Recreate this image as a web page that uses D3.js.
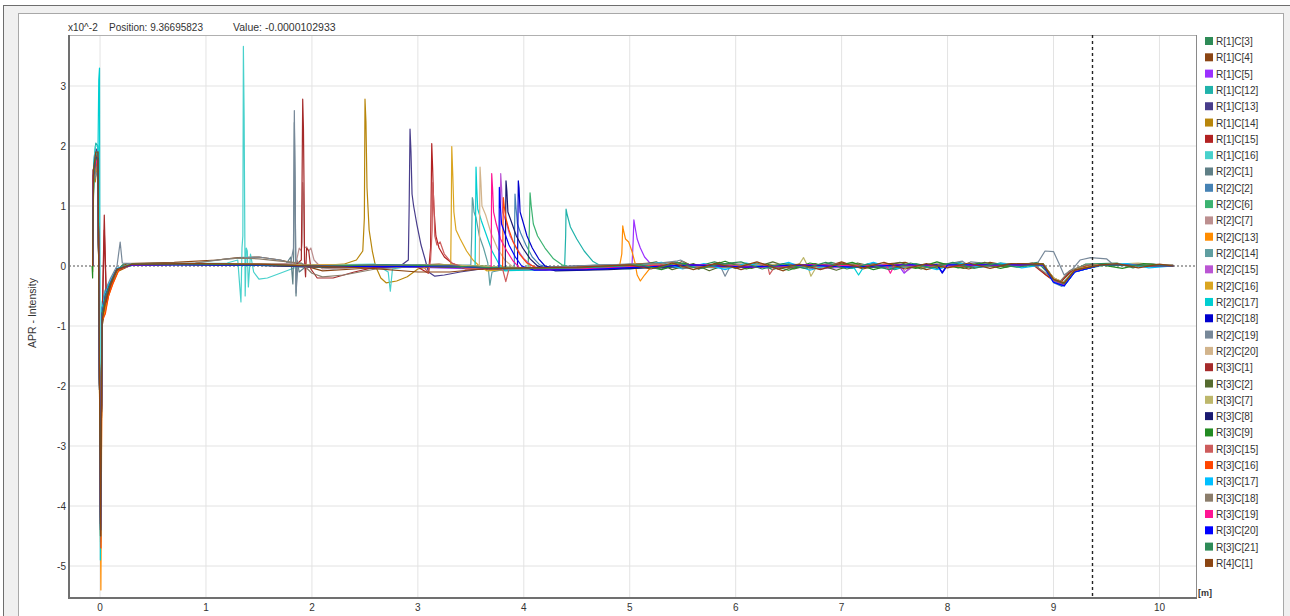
<!DOCTYPE html>
<html><head><meta charset="utf-8">
<script src="https://cdn.jsdelivr.net/npm/d3@7"></script>
<style>
body{margin:0;background:#fff;}
svg{display:block;font-family:"Liberation Sans",Arial,sans-serif;}
</style>
</head><body>
<svg id="c" width="1290" height="616"></svg>
<script>
// ---------- data (x in m, y in units of 10^-2) ----------
const seriesNames = ["R[1]C[3]","R[1]C[4]","R[1]C[5]","R[1]C[12]","R[1]C[13]","R[1]C[14]","R[1]C[15]","R[1]C[16]",
  "R[2]C[1]","R[2]C[2]","R[2]C[6]","R[2]C[7]","R[2]C[13]","R[2]C[14]","R[2]C[15]","R[2]C[16]","R[2]C[17]","R[2]C[18]","R[2]C[19]","R[2]C[20]",
  "R[3]C[1]","R[3]C[2]","R[3]C[7]","R[3]C[8]","R[3]C[9]","R[3]C[15]","R[3]C[16]","R[3]C[17]","R[3]C[18]","R[3]C[19]","R[3]C[20]","R[3]C[21]","R[4]C[1]"];
const seriesColors = ["#2E8B57","#8B4513","#9B30FF","#20B2AA","#483D8B","#B8860B","#B22222","#48D1CC",
  "#5F7F86","#4682B4","#3CB371","#BC8F8F","#FF8C00","#5F9EA0","#BA55D3","#DAA520","#00CED1","#0000CD","#778899","#D2B48C",
  "#A52A2A","#556B2F","#BDB76B","#191970","#228B22","#CD5C5C","#FF4500","#00BFFF","#8B7D6B","#FF1493","#0000FF","#2E8B57","#8B4513"];

const s01 = [[-0.07,0],[-0.066,0.6],[-0.06,1.6],[-0.045,1.9],[-0.03,1.7],[-0.02,1.8],[0.005,-4.3],[0.02,-0.9],[0.05,-0.6],[0.09,-0.3],[0.14,-0.1],[0.22,0.03],[0.6,0.05],[1.1,0.03],[1.6,0.02],[2.1,0],[2.6,-0.02],[3.1,0.02],[3.6,0],[4.1,-0.05],[4.6,-0.04],[5.1,0.02],[5.3,-0.05],[5.45,0.06],[5.6,-0.02],[5.8,0.07],[6.0,-0.04],[6.2,0.05],[6.35,-0.06],[6.5,0.04],[6.7,-0.05],[6.9,0.06],[7.1,-0.03],[7.3,0.05],[7.5,-0.06],[7.7,0.04],[7.9,-0.04],[8.1,0.06],[8.3,-0.02],[8.5,0.05],[8.7,0.02],[8.85,0.06],[8.95,-0.12],[9.05,-0.28],[9.15,-0.1],[9.3,0.03],[9.6,0.05],[9.75,-0.03],[9.9,0.04],[10.13,0]];
const s02 = [[-0.07,0],[-0.062,1.4],[-0.045,1.6],[-0.02,1.7],[0.005,-4.1],[0.02,-1.0],[0.05,-0.7],[0.1,-0.3],[0.16,-0.08],[0.25,0.04],[0.7,0.06],[1.1,0.1],[1.3,0.14],[1.5,0.15],[1.7,0.1],[1.9,0.02],[2.1,-0.08],[2.4,-0.05],[2.8,0],[3.2,0.03],[3.7,-0.06],[4.2,-0.06],[4.7,0],[5.2,0.05],[5.35,-0.03],[5.5,0.08],[5.65,-0.05],[5.85,0.06],[6.05,-0.06],[6.25,0.04],[6.45,-0.08],[6.6,0.03],[6.8,-0.04],[7.0,0.07],[7.2,-0.05],[7.4,0.03],[7.6,0.06],[7.8,-0.06],[8.0,0.03],[8.2,-0.05],[8.4,0.06],[8.6,0.0],[8.8,0.05],[8.93,-0.15],[9.05,-0.3],[9.15,-0.12],[9.3,0],[9.8,0.03],[10.13,0.01]];
const s03 = [[-0.07,0],[-0.064,1.5],[-0.05,1.9],[-0.03,1.6],[-0.02,1.8],[0.005,-4.4],[0.02,-0.8],[0.05,-0.5],[0.1,-0.25],[0.16,-0.05],[0.3,0.02],[0.8,0.03],[1.4,0.02],[2.0,-0.02],[2.6,0],[3.2,-0.03],[3.8,-0.06],[4.4,-0.06],[4.9,-0.04],[5.02,-0.03],[5.032,0.4],[5.039,0.77],[5.05,0.65],[5.07,0.45],[5.1,0.3],[5.14,0.15],[5.2,0.03],[5.3,-0.03],[5.6,0],[6.0,-0.02],[6.5,0.02],[6.9,-0.03],[7.3,0.02],[7.55,-0.02],[7.59,-0.12],[7.65,-0.02],[8.0,0.02],[8.5,0.03],[8.9,0.02],[9.0,-0.22],[9.1,-0.3],[9.2,-0.08],[9.4,0.02],[9.9,0.03],[10.13,0]];
const s04 = [[-0.07,0],[-0.06,1.7],[-0.04,2.05],[-0.02,2.0],[0.005,-4.5],[0.02,-0.7],[0.06,-0.5],[0.1,-0.3],[0.18,-0.05],[0.35,0.03],[1.0,0.04],[1.6,0.03],[2.2,0.01],[2.8,0],[3.4,0],[3.9,-0.04],[4.3,-0.05],[4.385,-0.03],[4.395,0.5],[4.399,0.95],[4.41,0.85],[4.44,0.65],[4.5,0.45],[4.57,0.25],[4.65,0.08],[4.75,-0.02],[5.0,-0.05],[5.4,0.02],[5.8,-0.03],[6.2,0.02],[6.6,-0.02],[7.0,0.02],[7.4,-0.03],[7.8,0.02],[8.2,0.03],[8.6,0.02],[8.9,0],[9.0,-0.25],[9.08,-0.3],[9.18,-0.1],[9.35,0.02],[9.9,0.02],[10.13,0]];
const s05 = [[-0.07,0],[-0.065,1.6],[-0.05,1.7],[-0.035,1.95],[-0.02,1.9],[0.005,-4.2],[0.02,-0.9],[0.05,-0.6],[0.1,-0.3],[0.16,-0.07],[0.3,0.02],[0.9,0.04],[1.5,0.02],[2.0,-0.02],[2.5,-0.02],[2.85,0.02],[2.91,0.1],[2.918,1.0],[2.926,2.28],[2.935,1.9],[2.945,1.2],[2.96,1.0],[2.99,0.7],[3.03,0.35],[3.07,0.1],[3.1,-0.1],[3.16,-0.17],[3.25,-0.15],[3.4,-0.1],[3.6,-0.05],[4.0,-0.03],[4.5,0],[5.0,0.02],[5.5,-0.03],[6.0,0.03],[6.5,-0.02],[7.0,0.03],[7.5,-0.02],[8.0,0.03],[8.5,0],[8.9,0.03],[9.0,-0.2],[9.1,-0.28],[9.2,-0.08],[9.4,0.02],[10.13,0.01]];
const s06 = [[-0.07,-0.1],[-0.062,1.5],[-0.045,1.4],[-0.02,1.8],[0.005,-4.5],[0.02,-0.9],[0.05,-0.7],[0.1,-0.35],[0.16,-0.1],[0.3,0.02],[0.9,0.03],[1.5,0.02],[2.0,0],[2.3,0.03],[2.42,0.1],[2.48,0.25],[2.495,0.8],[2.501,2.78],[2.51,2.4],[2.52,1.3],[2.54,0.6],[2.57,0.25],[2.6,0],[2.65,-0.2],[2.7,-0.28],[2.8,-0.25],[2.9,-0.18],[3.0,-0.05],[3.2,0.02],[3.6,0],[4.1,-0.04],[4.6,0],[5.1,0.03],[5.6,0],[6.1,0.03],[6.6,0],[7.1,0.03],[7.6,-0.02],[8.1,0.02],[8.6,0.03],[8.9,0.02],[9.0,-0.2],[9.1,-0.3],[9.2,-0.07],[9.5,0.02],[10.13,0.01]];
const s07 = [[-0.07,0],[-0.063,1.6],[-0.04,1.8],[-0.02,1.9],[0.005,-4.3],[0.02,-1.0],[0.04,0.6],[0.06,-0.6],[0.1,-0.35],[0.17,-0.08],[0.3,0.02],[1.0,0.03],[1.6,0.01],[2.1,-0.02],[2.6,0],[3.0,-0.02],[3.1,-0.12],[3.12,0.3],[3.131,2.04],[3.14,1.6],[3.15,1.0],[3.17,0.5],[3.2,0.3],[3.25,0.15],[3.32,0.05],[3.45,-0.05],[3.8,-0.06],[4.3,-0.04],[4.8,0],[5.3,0.02],[5.8,-0.02],[6.3,0.02],[6.8,-0.02],[7.3,0.03],[7.8,-0.02],[8.3,0.02],[8.8,0.03],[8.95,-0.18],[9.05,-0.3],[9.15,-0.1],[9.35,0.02],[10.13,0]];
const s08 = [[-0.07,0],[-0.06,1.7],[-0.045,2.0],[-0.02,2.0],[0.005,-4.6],[0.02,-0.8],[0.05,-0.5],[0.1,-0.3],[0.17,-0.06],[0.3,0.02],[0.8,0.04],[1.2,0.05],[1.3,0.1],[1.33,-0.6],[1.34,0.3],[1.348,0.5],[1.353,3.66],[1.36,2.5],[1.37,-0.5],[1.38,0.3],[1.39,0.25],[1.4,-0.35],[1.42,0.2],[1.45,-0.1],[1.5,-0.22],[1.58,-0.2],[1.7,-0.12],[1.85,-0.02],[2.2,0.02],[2.6,0.03],[2.72,-0.1],[2.74,-0.42],[2.76,-0.05],[3.0,0.02],[3.5,0],[4.0,-0.03],[4.5,-0.02],[5.0,0.02],[5.5,-0.02],[6.0,0.02],[6.5,0],[7.0,0.02],[7.5,-0.02],[8.0,0.02],[8.5,0.02],[8.9,0.03],[9.0,-0.22],[9.1,-0.3],[9.2,-0.08],[9.5,0.02],[10.13,0]];
const s09 = [[-0.07,0],[-0.064,1.4],[-0.05,1.55],[-0.02,1.7],[0.005,-4.2],[0.02,-0.9],[0.05,-0.55],[0.1,-0.3],[0.16,-0.06],[0.3,0.03],[0.9,0.04],[1.5,0.03],[1.75,0.02],[1.8,0.15],[1.82,-0.3],[1.828,0.2],[1.834,2.39],[1.84,1.5],[1.85,-0.5],[1.86,0.1],[1.88,-0.1],[1.95,0],[2.2,-0.05],[2.6,0],[3.0,0.02],[3.5,-0.02],[4.0,-0.04],[4.5,0],[5.0,0.03],[5.5,-0.02],[6.0,0.02],[6.5,-0.03],[7.0,0.02],[7.5,0],[8.0,0.03],[8.5,0],[8.9,0.02],[9.0,-0.25],[9.1,-0.32],[9.2,-0.1],[9.45,0.02],[10.13,0.01]];
const s10 = [[-0.07,0],[-0.062,1.5],[-0.04,1.75],[-0.02,1.8],[0.005,-4.4],[0.02,-0.7],[0.05,-0.45],[0.1,-0.25],[0.16,-0.05],[0.3,0.03],[0.9,0.02],[1.5,0.01],[2.1,0],[2.7,-0.03],[3.3,0],[3.8,-0.05],[3.91,-0.04],[3.913,0.6],[3.917,1.2],[3.925,1.0],[3.94,0.7],[3.97,0.55],[4.02,0.35],[4.08,0.15],[4.15,0.02],[4.3,-0.06],[4.7,-0.05],[5.1,0],[5.5,0.03],[5.9,-0.03],[6.3,0.03],[6.7,-0.04],[7.1,0.03],[7.5,-0.03],[7.9,0.03],[8.3,-0.02],[8.7,0.03],[8.9,0.02],[9.0,-0.28],[9.08,-0.34],[9.18,-0.1],[9.4,0.02],[9.8,0],[10.13,0]];
const s11 = [[-0.07,0],[-0.066,0.7],[-0.06,1.6],[-0.03,1.9],[-0.02,1.9],[0.005,-4.3],[0.02,-0.8],[0.05,-0.5],[0.1,-0.28],[0.17,-0.05],[0.3,0.02],[0.9,0.04],[1.5,0.02],[2.1,0],[2.7,0.02],[3.3,-0.02],[3.8,-0.05],[4.04,-0.04],[4.052,0.6],[4.059,1.22],[4.07,1.0],[4.09,0.7],[4.13,0.5],[4.2,0.3],[4.28,0.12],[4.36,0.02],[4.5,-0.05],[5.0,-0.04],[5.5,0.02],[6.0,-0.02],[6.5,0.03],[7.0,-0.03],[7.5,0.02],[8.0,-0.02],[8.5,0.03],[8.9,0.04],[9.0,-0.2],[9.1,-0.3],[9.2,-0.08],[9.4,0.02],[10.13,0]];
const s12 = [[-0.07,0],[-0.063,1.5],[-0.04,1.6],[-0.02,1.8],[0.005,-4.2],[0.02,-0.8],[0.05,-0.5],[0.1,-0.28],[0.16,-0.05],[0.3,0.03],[1.0,0.04],[1.6,0.03],[1.85,0.05],[1.88,0.3],[1.9,0.25],[1.908,0.4],[1.913,1.39],[1.92,1.2],[1.93,0.3],[1.95,0.32],[1.97,0.25],[1.99,0.3],[2.02,0.1],[2.1,-0.05],[2.4,-0.03],[2.9,0],[3.4,-0.02],[3.9,-0.05],[4.4,-0.03],[4.9,0.02],[5.4,0],[5.9,0.03],[6.4,-0.02],[6.9,0.03],[7.4,0],[7.9,0.03],[8.4,0],[8.9,0.03],[9.0,-0.22],[9.1,-0.28],[9.2,-0.07],[9.4,0.02],[10.13,0]];
const s13 = [[-0.07,0],[-0.062,1.5],[-0.04,1.7],[-0.02,1.8],[0.008,-5.4],[0.02,-0.9],[0.05,-0.75],[0.08,-0.5],[0.12,-0.3],[0.18,-0.05],[0.3,0.03],[0.9,0.04],[1.5,0.02],[2.1,0.02],[2.7,0],[3.3,-0.02],[3.9,-0.06],[4.5,-0.05],[4.9,-0.04],[4.925,0.2],[4.934,0.67],[4.94,0.6],[4.96,0.45],[4.99,0.4],[5.02,0.25],[5.05,0.05],[5.07,-0.15],[5.1,-0.25],[5.14,-0.15],[5.2,-0.02],[5.6,0.02],[6.0,0],[6.5,0.02],[7.0,0],[7.5,0.02],[8.0,-0.02],[8.5,0.02],[8.9,0.02],[9.0,-0.2],[9.1,-0.28],[9.2,-0.06],[9.4,0.02],[10.13,0]];
const s14 = [[-0.07,0],[-0.065,0.6],[-0.06,1.5],[-0.04,1.8],[-0.02,1.8],[0.005,-4.3],[0.02,-0.8],[0.05,-0.5],[0.1,-0.28],[0.16,-0.06],[0.3,0.02],[0.9,0.03],[1.5,0.02],[2.1,0],[2.7,0.02],[3.2,0],[3.5,0.02],[3.508,0.5],[3.514,1.14],[3.52,1.1],[3.53,0.9],[3.55,0.8],[3.58,0.5],[3.62,0.3],[3.66,0.05],[3.68,-0.32],[3.7,-0.1],[3.8,-0.06],[4.2,-0.05],[4.7,-0.02],[5.2,0.02],[5.7,-0.02],[6.2,0.03],[6.7,-0.03],[7.2,0.02],[7.7,-0.02],[8.2,0.03],[8.7,0],[8.9,0.03],[9.0,-0.22],[9.1,-0.3],[9.2,-0.08],[9.45,0.02],[10.13,0]];
const s15 = [[-0.07,0],[-0.062,1.6],[-0.04,1.9],[-0.02,1.9],[0.005,-4.4],[0.02,-0.8],[0.05,-0.5],[0.1,-0.3],[0.16,-0.06],[0.3,0.02],[0.9,0.03],[1.5,0.02],[2.1,0],[2.7,-0.02],[3.3,0],[3.7,-0.05],[3.77,-0.04],[3.776,0.7],[3.782,1.54],[3.79,1.3],[3.8,0.9],[3.83,0.75],[3.87,0.5],[3.93,0.3],[4.0,0.12],[4.08,0],[4.2,-0.06],[4.6,-0.05],[5.1,0],[5.6,0.02],[6.1,-0.02],[6.5,0.02],[6.8,-0.05],[7.2,0.02],[7.55,0.02],[7.6,-0.1],[7.7,0.02],[8.2,0.02],[8.7,0.03],[8.9,0.02],[9.0,-0.24],[9.1,-0.3],[9.2,-0.08],[9.45,0.02],[10.13,0]];
const s16 = [[-0.07,0],[-0.063,1.5],[-0.045,1.7],[-0.02,1.8],[0.005,-4.6],[0.02,-0.9],[0.05,-0.6],[0.1,-0.3],[0.16,-0.07],[0.3,0.03],[0.9,0.04],[1.5,0.02],[2.1,0],[2.7,0.02],[3.2,0],[3.31,0.02],[3.315,0.8],[3.32,1.99],[3.33,1.5],[3.34,0.9],[3.36,0.6],[3.4,0.45],[3.46,0.25],[3.52,0.1],[3.58,0],[3.65,-0.08],[3.8,-0.06],[4.3,-0.04],[4.8,0],[5.3,0.02],[5.8,-0.02],[6.3,0.02],[6.8,0],[7.2,0.02],[7.7,-0.02],[8.2,0.02],[8.7,0.02],[8.9,0.03],[9.0,-0.22],[9.1,-0.3],[9.2,-0.07],[9.45,0.02],[10.13,0]];
const s17 = [[-0.07,0],[-0.06,1.7],[-0.04,1.9],[-0.02,1.8],[-0.012,3.1],[-0.005,3.3],[0.003,-4.9],[0.02,-0.6],[0.05,-0.4],[0.1,-0.25],[0.16,-0.05],[0.3,0.02],[0.9,0.03],[1.5,0.02],[2.1,0],[2.7,0.02],[3.3,0],[3.54,-0.02],[3.545,0.8],[3.549,1.65],[3.556,1.3],[3.565,0.95],[3.6,0.75],[3.65,0.5],[3.7,0.25],[3.76,0.05],[3.82,-0.08],[4.2,-0.06],[4.7,-0.02],[5.2,0.02],[5.7,0],[6.2,0.02],[6.7,0],[7.1,0.02],[7.16,-0.15],[7.22,0.02],[7.7,0.02],[8.2,0],[8.7,0.02],[8.9,0.02],[9.0,-0.25],[9.1,-0.32],[9.2,-0.08],[9.45,0.02],[10.13,0]];
const s18 = [[-0.07,0],[-0.062,1.5],[-0.04,1.7],[-0.02,1.8],[0.005,-4.4],[0.02,-0.8],[0.05,-0.5],[0.1,-0.3],[0.16,-0.06],[0.3,0.02],[0.9,0.03],[1.5,0.01],[2.1,0],[2.7,-0.02],[3.3,0],[3.8,-0.05],[3.94,-0.04],[3.944,0.6],[3.948,1.42],[3.955,1.3],[3.965,0.9],[3.99,0.75],[4.03,0.5],[4.08,0.3],[4.14,0.12],[4.2,0],[4.35,-0.07],[4.8,-0.05],[5.3,0],[5.8,0.02],[6.3,-0.02],[6.8,0.02],[7.3,0],[7.9,0.02],[7.95,-0.12],[8.0,0.02],[8.5,0.02],[8.9,0.02],[9.0,-0.26],[9.1,-0.33],[9.2,-0.1],[9.45,0.02],[10.13,0]];
const s19 = [[-0.07,0],[-0.062,1.4],[-0.04,1.5],[-0.02,1.6],[0.005,-4.0],[0.02,-0.7],[0.05,-0.4],[0.1,-0.2],[0.16,0],[0.19,0.4],[0.21,0.05],[0.3,0.04],[0.9,0.05],[1.2,0.12],[1.5,0.15],[1.7,0.1],[1.8,0.05],[1.826,0.3],[1.834,2.59],[1.842,1.2],[1.85,-0.45],[1.87,0.05],[1.95,0.02],[2.2,0],[2.7,0.02],[3.2,0],[3.7,-0.03],[4.2,-0.03],[4.7,0.02],[5.2,0.03],[5.44,0.08],[5.48,0.1],[5.52,0.05],[5.6,0],[5.85,0.02],[5.9,-0.17],[5.95,0],[6.4,0.02],[6.9,0],[7.4,0.02],[7.9,0],[8.14,0.08],[8.18,0.03],[8.22,0.07],[8.5,0.02],[8.85,0.05],[8.92,0.25],[9.0,0.24],[9.05,0.05],[9.1,-0.15],[9.18,-0.05],[9.25,0.1],[9.35,0.14],[9.5,0.12],[9.56,0.03],[9.9,0.02],[10.13,0]];
const s20 = [[-0.07,0],[-0.063,1.5],[-0.04,1.65],[-0.02,1.8],[0.005,-4.3],[0.02,-0.8],[0.05,-0.5],[0.1,-0.3],[0.16,-0.06],[0.3,0.02],[0.9,0.03],[1.5,0.02],[2.1,0],[2.7,0.02],[3.3,0],[3.58,-0.02],[3.583,0.8],[3.587,1.65],[3.595,1.4],[3.605,1.0],[3.64,0.85],[3.69,0.55],[3.75,0.3],[3.82,0.1],[3.9,-0.02],[4.2,-0.05],[4.7,-0.02],[5.2,0.02],[5.7,0],[6.2,0.02],[6.7,-0.02],[7.2,0.02],[7.7,0],[8.2,0.02],[8.7,0.03],[8.9,0.03],[9.0,-0.22],[9.1,-0.3],[9.2,-0.07],[9.45,0.02],[10.13,0]];
const s21 = [[-0.07,0],[-0.062,1.6],[-0.04,1.75],[-0.02,1.9],[0.005,-4.4],[0.02,-0.9],[0.04,0.85],[0.06,-0.6],[0.1,-0.3],[0.16,-0.06],[0.3,0.03],[0.9,0.04],[1.5,0.03],[1.85,0.02],[1.9,0.1],[1.906,1.2],[1.913,2.78],[1.92,2.3],[1.925,1.4],[1.93,0.1],[1.94,-0.18],[1.95,0.3],[1.97,0.25],[1.99,-0.05],[2.05,-0.2],[2.2,-0.2],[2.4,-0.1],[2.6,-0.02],[3.0,0],[3.5,-0.02],[4.0,-0.05],[4.5,-0.03],[5.0,0.02],[5.5,0],[6.0,0.02],[6.5,-0.02],[7.0,0.02],[7.5,0],[8.0,0.02],[8.5,0.02],[8.9,0.02],[9.0,-0.24],[9.1,-0.3],[9.2,-0.08],[9.45,0.02],[10.13,0]];
const s22 = [[-0.07,0],[-0.066,0.7],[-0.06,1.6],[-0.04,1.9],[-0.02,1.9],[0.005,-4.5],[0.02,-0.9],[0.05,-0.6],[0.1,-0.3],[0.16,-0.07],[0.3,0.03],[0.9,0.02],[1.5,0.01],[2.1,-0.02],[2.7,0],[3.3,0.02],[3.9,-0.04],[4.5,-0.04],[5.1,0.02],[5.25,0.07],[5.4,-0.06],[5.6,0.04],[5.75,-0.08],[5.95,0.05],[6.15,-0.04],[6.35,0.07],[6.55,-0.05],[6.75,0.04],[6.95,-0.07],[7.15,0.05],[7.35,-0.03],[7.55,0.06],[7.75,-0.05],[7.95,0.04],[8.15,-0.04],[8.35,0.06],[8.55,-0.02],[8.75,0.04],[8.9,0.04],[9.0,-0.22],[9.1,-0.28],[9.2,-0.07],[9.45,0.02],[10.13,0]];
const s23 = [[-0.07,0],[-0.062,1.5],[-0.04,1.6],[-0.02,1.8],[0.005,-4.3],[0.02,-0.8],[0.05,-0.5],[0.1,-0.28],[0.16,-0.05],[0.3,0.03],[0.9,0.04],[1.5,0.03],[2.1,0.01],[2.7,0],[3.3,0.02],[3.9,-0.03],[4.5,-0.03],[5.1,0.02],[5.6,0],[6.1,0.02],[6.6,0.03],[6.64,0.14],[6.68,0.0],[6.71,-0.17],[6.76,-0.02],[7.2,0.02],[7.7,0],[8.2,0.02],[8.7,0.02],[8.9,0.03],[9.0,-0.2],[9.1,-0.27],[9.2,-0.06],[9.45,0.02],[9.8,0.05],[10.13,0]];
const s24 = [[-0.07,0],[-0.063,1.5],[-0.045,1.8],[-0.02,1.8],[0.005,-4.3],[0.02,-0.8],[0.05,-0.5],[0.1,-0.28],[0.16,-0.05],[0.3,0.02],[0.9,0.03],[1.5,0.02],[2.1,-0.01],[2.7,0],[3.3,-0.02],[3.75,-0.05],[3.825,-0.04],[3.828,0.7],[3.832,1.42],[3.84,1.25],[3.85,0.9],[3.88,0.75],[3.93,0.5],[3.99,0.3],[4.06,0.12],[4.13,0],[4.3,-0.08],[4.8,-0.06],[5.3,-0.02],[5.8,0.02],[6.3,-0.02],[6.8,0.02],[7.3,-0.02],[7.8,0.02],[8.3,0],[8.7,0.02],[8.9,0.02],[9.0,-0.25],[9.1,-0.32],[9.2,-0.09],[9.45,0.02],[10.13,0]];
const s25 = [[-0.075,0],[-0.07,-0.2],[-0.066,0.6],[-0.06,1.5],[-0.04,1.7],[-0.02,1.7],[0.005,-4.2],[0.02,-0.8],[0.05,-0.5],[0.1,-0.3],[0.16,-0.05],[0.3,0.03],[0.9,0.03],[1.5,0.02],[2.1,0],[2.7,0.01],[3.3,-0.01],[3.9,-0.04],[4.5,-0.04],[5.1,0.02],[5.3,-0.06],[5.5,0.05],[5.7,-0.03],[5.9,0.08],[6.1,-0.05],[6.3,0.03],[6.5,-0.07],[6.7,0.05],[6.9,-0.02],[7.1,0.06],[7.3,-0.06],[7.5,0.03],[7.7,-0.04],[7.9,0.07],[8.1,-0.03],[8.3,0.05],[8.5,-0.04],[8.7,0.04],[8.9,0.03],[9.0,-0.24],[9.1,-0.31],[9.2,-0.08],[9.45,0.02],[9.65,-0.04],[9.85,0.04],[10.13,0]];
const s26 = [[-0.07,0],[-0.062,1.5],[-0.04,1.7],[-0.02,1.8],[0.005,-4.3],[0.02,-0.8],[0.05,-0.5],[0.1,-0.28],[0.16,-0.05],[0.3,0.02],[0.9,0.03],[1.5,0.02],[2.1,0],[2.7,0.01],[3.05,0],[3.1,-0.12],[3.12,0.1],[3.135,0.6],[3.14,1.39],[3.15,1.1],[3.16,0.5],[3.18,0.35],[3.21,0.4],[3.25,0.2],[3.32,0.05],[3.45,-0.04],[3.8,-0.05],[3.83,-0.26],[3.86,-0.05],[4.3,-0.04],[4.8,0],[5.3,0.02],[5.8,-0.02],[6.3,0.02],[6.32,-0.14],[6.38,0.02],[6.8,0],[7.3,0.02],[7.8,0],[8.3,0.02],[8.7,0.02],[8.9,0.02],[9.0,-0.23],[9.1,-0.3],[9.2,-0.07],[9.45,0.02],[10.13,0]];
const s27 = [[-0.07,0],[-0.063,1.5],[-0.04,1.6],[-0.02,1.8],[0.008,-4.7],[0.02,-0.9],[0.05,-0.8],[0.08,-0.5],[0.12,-0.3],[0.18,-0.06],[0.3,0.03],[0.9,0.03],[1.5,0.02],[2.1,0],[2.7,0.02],[3.3,0],[3.75,-0.04],[3.8,-0.03],[3.803,0.6],[3.807,1.14],[3.815,1.0],[3.83,0.8],[3.86,0.6],[3.9,0.4],[3.96,0.2],[4.03,0.05],[4.15,-0.06],[4.6,-0.05],[5.1,0],[5.6,0.02],[6.1,-0.02],[6.6,0.02],[7.1,0],[7.6,0.02],[8.1,0],[8.6,0.02],[8.9,0.03],[9.0,-0.22],[9.1,-0.29],[9.2,-0.07],[9.45,0.02],[10.13,0]];
const s28 = [[-0.07,0],[-0.06,1.6],[-0.04,1.9],[-0.02,1.9],[0.005,-4.5],[0.02,-0.7],[0.05,-0.45],[0.1,-0.25],[0.16,-0.04],[0.3,0.03],[0.9,0.03],[1.5,0.02],[2.1,0],[2.7,0.02],[3.3,0],[3.9,-0.05],[4.5,-0.04],[5.1,0.02],[5.3,0.06],[5.5,-0.05],[5.7,0.04],[5.9,-0.06],[6.1,0.05],[6.3,-0.03],[6.5,0.06],[6.7,-0.07],[6.9,0.03],[7.1,-0.04],[7.3,0.06],[7.5,-0.05],[7.7,0.03],[7.9,-0.06],[8.1,0.05],[8.3,-0.02],[8.5,0.05],[8.7,-0.03],[8.9,0.02],[9.0,-0.26],[9.1,-0.33],[9.2,-0.1],[9.45,0.02],[9.7,0.04],[9.9,-0.03],[10.13,0]];
const s29 = [[-0.07,0],[-0.062,1.4],[-0.04,1.6],[-0.02,1.7],[0.005,-4.2],[0.02,-0.8],[0.05,-0.5],[0.1,-0.28],[0.16,-0.05],[0.3,0.03],[0.9,0.05],[1.1,0.1],[1.3,0.13],[1.5,0.12],[1.7,0.08],[1.9,0.05],[2.0,-0.12],[2.1,-0.18],[2.3,-0.15],[2.6,-0.05],[3.0,0],[3.5,-0.02],[4.0,-0.04],[4.5,-0.03],[5.0,0.02],[5.44,0.06],[5.5,-0.04],[5.9,0.02],[6.4,-0.02],[6.9,0.02],[7.4,-0.02],[7.9,0.02],[8.4,0],[8.8,0.04],[8.95,-0.15],[9.05,-0.28],[9.15,-0.08],[9.3,0.02],[10.13,0]];
const s30 = [[-0.07,0],[-0.063,1.5],[-0.04,1.7],[-0.02,1.8],[0.005,-4.3],[0.02,-0.8],[0.05,-0.5],[0.1,-0.28],[0.16,-0.05],[0.3,0.02],[0.9,0.03],[1.5,0.02],[2.1,0],[2.7,0.01],[3.3,0],[3.65,-0.03],[3.692,-0.02],[3.694,0.7],[3.697,1.54],[3.705,1.3],[3.715,0.9],[3.74,0.7],[3.78,0.45],[3.84,0.25],[3.9,0.08],[3.96,-0.03],[4.2,-0.06],[4.7,-0.04],[5.2,0],[5.7,0.02],[6.2,-0.02],[6.7,0.02],[7.2,0],[7.42,0.02],[7.46,-0.12],[7.5,0.02],[8.0,0],[8.5,0.02],[8.9,0.02],[9.0,-0.24],[9.1,-0.31],[9.2,-0.08],[9.45,0.02],[10.13,0]];
const s31 = [[-0.07,0],[-0.062,1.5],[-0.04,1.8],[-0.02,1.8],[0.005,-4.4],[0.02,-0.8],[0.05,-0.5],[0.1,-0.28],[0.16,-0.05],[0.3,0.02],[0.9,0.02],[1.5,0.01],[2.1,0],[2.7,-0.01],[3.3,0],[3.7,-0.04],[3.765,-0.03],[3.767,0.6],[3.769,1.31],[3.775,1.1],[3.79,0.7],[3.82,0.55],[3.86,0.35],[3.92,0.15],[3.98,0],[4.1,-0.07],[4.6,-0.06],[5.1,-0.02],[5.6,0.02],[6.1,-0.02],[6.6,0.02],[7.1,-0.02],[7.6,0.02],[7.9,0.02],[7.95,-0.1],[8.0,0.02],[8.5,0.02],[8.9,0.02],[9.0,-0.27],[9.1,-0.33],[9.2,-0.1],[9.45,0.02],[10.13,0]];
const s32 = [[-0.07,0],[-0.066,0.7],[-0.06,1.5],[-0.04,1.8],[-0.02,1.8],[0.005,-4.4],[0.02,-0.8],[0.05,-0.5],[0.1,-0.28],[0.16,-0.05],[0.3,0.03],[0.9,0.03],[1.5,0.02],[2.1,0],[2.7,0.02],[3.3,0],[3.9,-0.04],[4.5,-0.03],[5.1,0.02],[5.25,-0.04],[5.45,0.06],[5.65,-0.05],[5.85,0.03],[6.05,0.07],[6.25,-0.05],[6.45,0.04],[6.65,-0.04],[6.85,0.06],[7.05,-0.05],[7.25,0.03],[7.45,-0.06],[7.65,0.05],[7.85,-0.03],[8.05,0.06],[8.25,-0.04],[8.45,0.04],[8.65,-0.02],[8.9,0.03],[9.0,-0.23],[9.1,-0.3],[9.2,-0.07],[9.45,0.02],[10.13,0]];
const s33 = [[-0.07,0],[-0.062,1.6],[-0.04,1.9],[-0.02,1.9],[0.005,-4.5],[0.02,-0.9],[0.05,-0.6],[0.1,-0.3],[0.16,-0.06],[0.3,0.03],[0.9,0.04],[1.5,0.03],[2.0,0],[2.5,-0.03],[3.0,-0.1],[3.3,-0.1],[3.6,-0.05],[4.0,-0.03],[4.5,-0.02],[5.0,0.02],[5.2,-0.05],[5.4,0.05],[5.6,-0.06],[5.8,0.04],[6.0,-0.03],[6.2,0.07],[6.4,-0.05],[6.6,0.03],[6.8,-0.06],[7.0,0.05],[7.2,-0.03],[7.4,0.06],[7.6,-0.05],[7.8,0.04],[8.0,-0.03],[8.2,0.05],[8.4,-0.04],[8.6,0.04],[8.9,0.03],[9.0,-0.22],[9.1,-0.28],[9.2,-0.07],[9.45,0.02],[9.6,0.04],[9.8,-0.03],[10.0,0.03],[10.13,0]];

const seriesData = [s01,s02,s03,s04,s05,s06,s07,s08,s09,s10,s11,s12,s13,s14,s15,s16,s17,s18,s19,s20,s21,s22,s23,s24,s25,s26,s27,s28,s29,s30,s31,s32,s33];

const xTicks = [0,1,2,3,4,5,6,7,8,9,10];
const yTicks = [3,2,1,0,-1,-2,-3,-4,-5];
const xDomain = [-0.293, 10.345];
const yDomain = [-5.533, 3.85];
const cursorX = 9.36695823;
const headerScale = "x10^-2";
const headerPosition = "Position: 9.36695823";
const headerValue = "Value: -0.0000102933";
const yTitle = "APR - Intensity";
const xUnit = "[m]";

// ---------- drawing ----------
const svg = d3.select("#c");
const W = 1290, H = 616;
const L = 69, R = 1196, T = 35, B = 598;

svg.append("rect").attr("x",0).attr("y",0).attr("width",W).attr("height",H).attr("fill","#ffffff");
svg.append("rect").attr("x",3.5).attr("y",5.5).attr("width",W-2).attr("height",H).attr("fill","#f0f0f0").attr("stroke","#6d6d6d");
svg.append("rect").attr("x",18.5).attr("y",13.5).attr("width",1265).attr("height",H).attr("fill","#ffffff").attr("stroke","#a8a8a8");

const x = d3.scaleLinear().domain(xDomain).range([L, R]);
const y = d3.scaleLinear().domain(yDomain).range([B, T]);

const g = svg.append("g");
g.selectAll("line.vg").data(xTicks).join("line")
  .attr("x1",d=>x(d)).attr("x2",d=>x(d)).attr("y1",T).attr("y2",B)
  .attr("stroke","#e3e3e3").attr("stroke-width",1);
g.selectAll("line.hg").data(yTicks.filter(d=>d!==0)).join("line")
  .attr("x1",L).attr("x2",R).attr("y1",d=>y(d)).attr("y2",d=>y(d))
  .attr("stroke","#e3e3e3").attr("stroke-width",1);

svg.append("line").attr("x1",L).attr("x2",R).attr("y1",T+0.5).attr("y2",T+0.5).attr("stroke","#b0b0b0");
svg.append("line").attr("x1",R+0.5).attr("x2",R+0.5).attr("y1",T).attr("y2",B).attr("stroke","#8a8a8a");

svg.append("clipPath").attr("id","pc").append("rect").attr("x",L).attr("y",T).attr("width",R-L).attr("height",B-T);

const line = d3.line().x(d=>x(d[0])).y(d=>y(d[1]));
const plot = svg.append("g").attr("clip-path","url(#pc)");

plot.append("line").attr("x1",L).attr("x2",R).attr("y1",y(0)).attr("y2",y(0))
  .attr("stroke","#8c8c8c").attr("stroke-width",1.5).attr("stroke-dasharray","2,2");

plot.selectAll("path.s").data(seriesData).join("path")
  .attr("class","s").attr("d",line).attr("fill","none")
  .attr("stroke",(d,i)=>seriesColors[i]).attr("stroke-width",1.2)
  .attr("stroke-linejoin","round");

svg.append("line").attr("x1",Math.round(x(cursorX))+0.5).attr("x2",Math.round(x(cursorX))+0.5).attr("y1",T).attr("y2",B)
  .attr("stroke","#222").attr("stroke-width",1.4).attr("stroke-dasharray","3,3");

svg.append("line").attr("x1",L).attr("x2",L).attr("y1",T).attr("y2",B+1).attr("stroke","#707070").attr("stroke-width",2);
svg.append("line").attr("x1",L-1).attr("x2",R+1).attr("y1",B).attr("y2",B).attr("stroke","#707070").attr("stroke-width",2);

svg.selectAll("text.yl").data(yTicks).join("text")
  .attr("x",66).attr("y",d=>y(d)+4).attr("text-anchor","end")
  .attr("font-size",10).attr("fill","#333").text(d=>d);
svg.selectAll("text.xl").data(xTicks).join("text")
  .attr("x",d=>x(d)).attr("y",611).attr("text-anchor","middle")
  .attr("font-size",10).attr("fill","#333").text(d=>d);

svg.append("text").attr("x",68).attr("y",31).attr("font-size",10).attr("fill","#333").text(headerScale);
svg.append("text").attr("x",109).attr("y",31).attr("font-size",10).attr("fill","#333").text(headerPosition);
svg.append("text").attr("x",233).attr("y",31).attr("font-size",10.5).attr("fill","#333").text(headerValue);

svg.append("text").attr("transform","translate(36,313) rotate(-90)").attr("text-anchor","middle")
  .attr("font-size",10.5).attr("fill","#333").text(yTitle);

svg.append("text").attr("x",1198).attr("y",596).attr("font-size",9).attr("font-weight","bold").attr("fill","#333").text(xUnit);

const lg = svg.append("g");
const items = lg.selectAll("g").data(seriesNames).join("g")
  .attr("transform",(d,i)=>`translate(1205,${41 + i*16.31})`);
items.append("rect").attr("x",0).attr("y",-4).attr("width",8).attr("height",8)
  .attr("fill",(d,i)=>seriesColors[i]);
items.append("text").attr("x",11).attr("y",4).attr("font-size",10).attr("fill","#333").text(d=>d);
</script>
</body></html>
